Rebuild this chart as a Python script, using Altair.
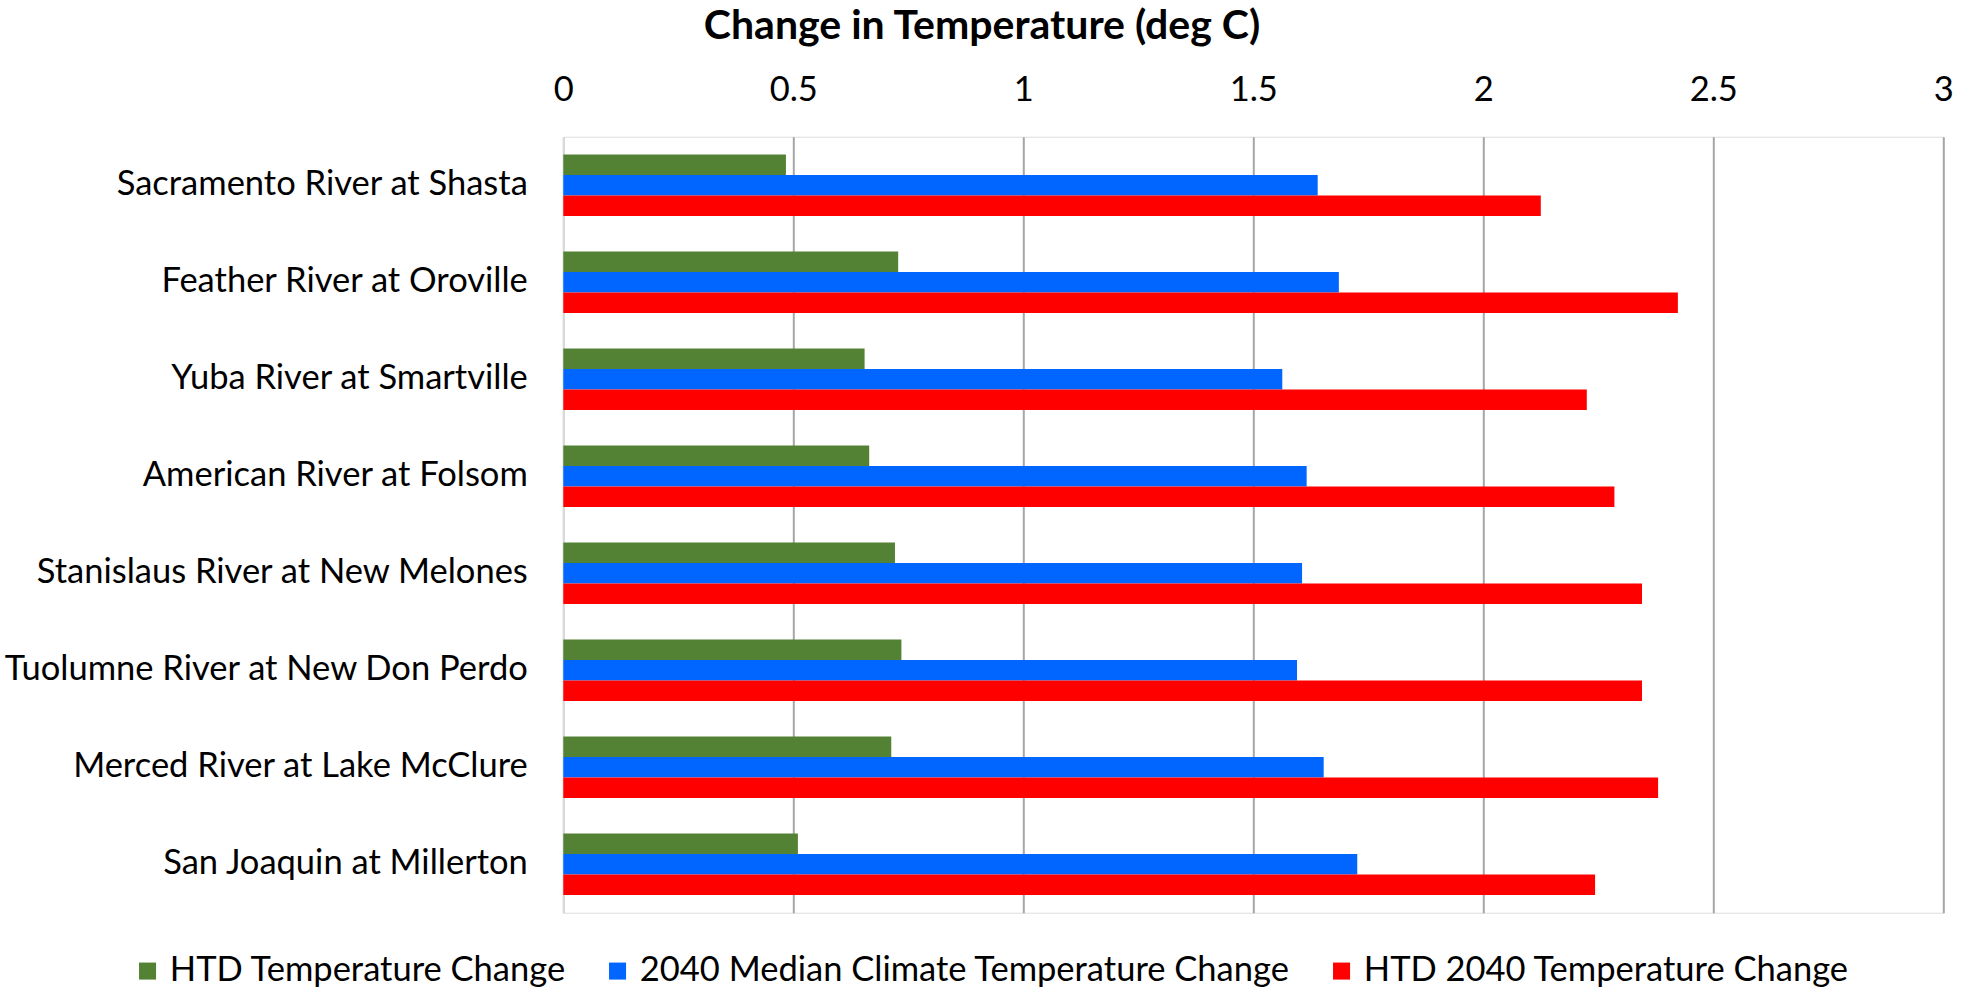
import altair as alt
import pandas as pd

# Reservoir inflow locations, top to bottom
locations = [
    "Sacramento River at Shasta",
    "Feather River at Oroville",
    "Yuba River at Smartville",
    "American River at Folsom",
    "Stanislaus River at New Melones",
    "Tuolumne River at New Don Perdo",
    "Merced River at Lake McClure",
    "San Joaquin at Millerton",
]

series_names = [
    "HTD Temperature Change",
    "2040 Median Climate Temperature Change",
    "HTD 2040 Temperature Change",
]

htd_change = [0.484, 0.728, 0.655, 0.665, 0.721, 0.735, 0.713, 0.510]
median_2040_change = [1.640, 1.686, 1.563, 1.616, 1.606, 1.595, 1.653, 1.726]
htd_2040_change = [2.125, 2.423, 2.225, 2.285, 2.345, 2.345, 2.380, 2.243]

series_colors = ["#548235", "#0066FF", "#FF0000"]
x_ticks = [0, 0.5, 1, 1.5, 2, 2.5, 3]

rows = []
for series, values in zip(series_names, [htd_change, median_2040_change, htd_2040_change]):
    for loc, v in zip(locations, values):
        rows.append({"Location": loc, "Series": series, "Change": v})
df = pd.DataFrame(rows)

FONT = "Lato"
LABEL_SIZE = 34.5

chart = (
    alt.Chart(df)
    .mark_bar()
    .encode(
        y=alt.Y(
            "Location:N",
            sort=locations,
            scale=alt.Scale(paddingInner=0.367, paddingOuter=0.1835),
            axis=alt.Axis(
                title=None,
                ticks=False,
                tickSize=0,
                labelPadding=36,
                labelFontSize=LABEL_SIZE,
                labelFont=FONT,
                labelColor="#000000",
                labelLimit=0,
                domainColor="#D9D9D9",
                domainWidth=2,
                grid=False,
            ),
        ),
        yOffset=alt.YOffset("Series:N", sort=series_names),
        x=alt.X(
            "Change:Q",
            scale=alt.Scale(domain=[0, 3], nice=False),
            axis=alt.Axis(
                orient="top",
                title=None,
                values=x_ticks,
                format="~g",
                ticks=False,
                tickSize=0,
                domain=False,
                labelPadding=29,
                labelFontSize=LABEL_SIZE,
                labelFont=FONT,
                labelColor="#000000",
                labelFlush=False,
                gridColor={
                    "condition": {"test": "datum.value === 0", "value": "#D9D9D9"},
                    "value": "#A6A6A6",
                },
                gridWidth=2,
            ),
        ),
        color=alt.Color(
            "Series:N",
            sort=series_names,
            scale=alt.Scale(domain=series_names, range=series_colors),
            legend=alt.Legend(
                title=None,
                orient="none",
                direction="horizontal",
                legendX=-433,
                legendY=817,
                symbolType="square",
                symbolSize=290,
                symbolStrokeWidth=0,
                labelFont=FONT,
                labelFontSize=LABEL_SIZE,
                labelColor="#000000",
                labelOffset=5,
                columnPadding=34,
                labelLimit=0,
                padding=0,
            ),
        ),
    )
    .properties(
        width=1380,
        height=776,
        title=alt.TitleParams(
            "Change in Temperature (deg C)",
            anchor="middle",
            frame="bounds",
            font=FONT,
            fontSize=41,
            fontWeight="bold",
            color="#000000",
            offset=25,
            dx=4,
        ),
        autosize=alt.AutoSizeParams(type="none"),
        padding={"left": 563.3, "top": 136.7, "right": 20.7, "bottom": 82.3},
    )
    .configure_view(stroke=None)
    .configure(background="white")
)

chart.save("out.html", embed_options={"renderer": "svg", "actions": False})
